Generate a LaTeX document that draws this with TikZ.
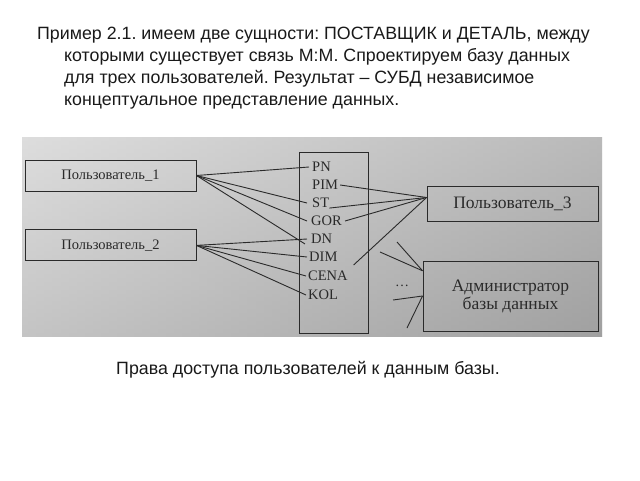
\documentclass[tikz,border=0pt]{standalone}
\usepackage{fontspec}
\setmainfont{Liberation Sans}
\newfontfamily\bookfont{Liberation Serif}
\usetikzlibrary{positioning}
\frenchspacing

\definecolor{ink}{HTML}{2A2A2A}

\tikzset{
  slide/.style={anchor=base west, inner sep=0pt, font=\fontsize{17.8}{22}\selectfont, text=black!90},
  user/.style={draw=ink, line width=0.9pt, minimum width=171pt, minimum height=31pt,
    inner sep=0pt, text=ink, font=\bookfont\fontsize{14.5}{16}\selectfont},
  attr/.style={anchor=west, inner sep=0pt, text=ink, font=\bookfont\fontsize{14.5}{16}\selectfont},
  link/.style={draw=ink, line width=0.9pt},
}

\begin{document}
\begin{tikzpicture}[x=1pt, y=-1pt]
  \useasboundingbox (0,0) rectangle (640,480);

  % text of the slide
  \node[slide] (line1) at (37,39.5) {Пример 2.1. имеем две сущности: ПОСТАВЩИК и ДЕТАЛЬ, между};
  \node[slide] (line2) at (64,61.5) {которыми существует связь М:М. Спроектируем базу данных};
  \node[slide] (line3) at (64,83.5) {для трех пользователей. Результат -- СУБД независимое};
  \node[slide] (line4) at (64,105.5) {концептуальное представление данных.};

  % the photographed page
  \shade[top color=black!10, bottom color=black!30] (22,137) rectangle (602,336);
  \shade[left color=black!16, middle color=black!4, right color=black!44, fill opacity=0.5]
    (22,137) rectangle (602,336);

  \node[user] (p1) at (110.5,175.5) {Пользователь\_1};
  \node[user, below=38pt of p1] (p2) {Пользователь\_2};

  \node[draw=ink, line width=0.9pt, minimum width=69pt, minimum height=181pt] (ent) at (333.5,242.5) {};
  \node[attr] (pn) at (312,167) {PN};
  \node[attr] (pim) at (312,185) {PIM};
  \node[attr] (st) at (312,203) {ST};
  \node[attr] (gor) at (311,221) {GOR};
  \node[attr] (dn) at (311,239) {DN};
  \node[attr] (dim) at (309,257) {DIM};
  \node[attr] (cena) at (308,276) {CENA};
  \node[attr] (kol) at (308,295) {KOL};

  \node[user, minimum height=35pt, font=\bookfont\fontsize{17.5}{19}\selectfont] (p3) at (512.5,203.5) {Пользователь\_3};
  \node[user, minimum width=175pt, minimum height=70pt, align=center,
    font=\bookfont\fontsize{17.5}{18}\selectfont] (adm) at (510.5,296) {Администратор\\базы данных};

  \coordinate (a1) at (397,242);
  \coordinate (a2) at (380,252);
  \coordinate (a3) at (393,300);
  \coordinate (a4) at (407,328);
  \node[text=ink, font=\bookfont\fontsize{14}{15}\selectfont] (dots) at (402,286) {\dots};

  % rights of the users
  \draw[link] (p1.east) -- ([xshift=-3pt]pn.west);
  \draw[link] (p1.east) -- ([xshift=-5pt]st.west);
  \draw[link] (p1.east) -- ([xshift=-4pt]gor.west);
  \draw[link] (p1.east) -- ([xshift=-6pt]dn.south west);

  \draw[link] (p2.east) -- ([xshift=-4pt]dn.west);
  \draw[link] (p2.east) -- ([xshift=-2pt]dim.west);
  \draw[link] (p2.east) -- ([xshift=-2pt]cena.west);
  \draw[link] (p2.east) -- ([xshift=-2pt]kol.west);

  \draw[link] (p3.176) -- ([xshift=2pt]pim.east);
  \draw[link] (p3.176) -- (st.south east);
  \draw[link] (p3.176) -- ([xshift=3pt]gor.east);
  \draw[link] (p3.176) -- ([xshift=16pt,yshift=-8pt]dim.east);

  \draw[link] (a1) -- (adm.164);
  \draw[link] (a2) -- (adm.164);
  \draw[link] (a3) -- (adm.west);
  \draw[link] (a4) -- (adm.west);

  \node[slide, anchor=base] (caption) at (308,374) {Права доступа пользователей к данным базы.};
\end{tikzpicture}
\end{document}
